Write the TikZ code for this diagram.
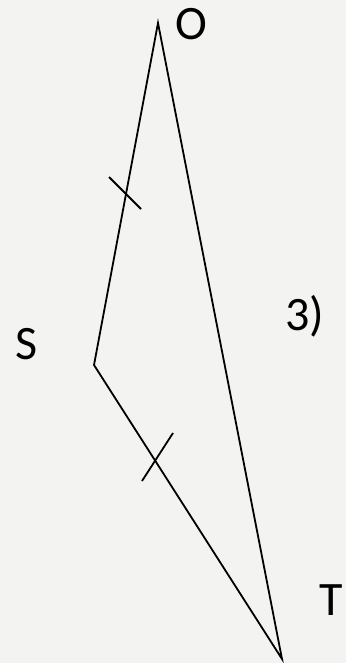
\documentclass[tikz,border=0pt]{standalone}
\usepackage{fontspec}
\setmainfont{Carlito}
\definecolor{bg}{RGB}{243,243,242}
\begin{document}
\begin{tikzpicture}[x=1pt,y=-1pt,
  edge/.style={line width=1.8pt,black,line join=miter},
  tick/.style={line width=1.8pt,black},
  lbl/.style={font=\fontsize{48}{56}\selectfont,inner sep=0pt}]
\fill[bg] (0,0) rectangle (346,663);
\useasboundingbox (0,0) rectangle (346,663);
\coordinate (O) at (158,23);
\coordinate (S) at (94,365);
\coordinate (T) at (282,659);
\draw[edge] (O) -- (S) -- (T) -- cycle;
\coordinate (a1) at (109,177);
\coordinate (a2) at (141,209);
\coordinate (b1) at (173,433);
\coordinate (b2) at (142,481);
\draw[tick] (a1) -- (a2);
\draw[tick] (b1) -- (b2);
\node[lbl] (lO) at (191,24) {O};
\node[lbl] (lS) at (27,344) {S};
\node[lbl] (lT) at (331,600) {T};
\node[lbl] (l3) at (305,316) {3)};
\end{tikzpicture}
\end{document}
